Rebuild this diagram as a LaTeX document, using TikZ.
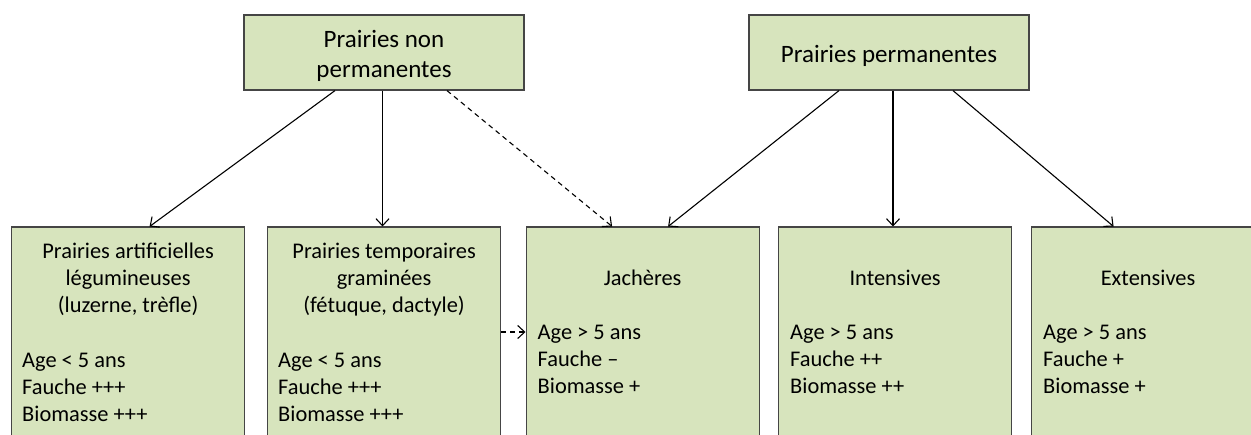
\documentclass[tikz,border=0pt]{standalone}
\usepackage{fontspec}
\setmainfont{Carlito}
\usetikzlibrary{arrows.meta}
\definecolor{boxfill}{HTML}{D7E4BD}
\definecolor{boxline}{HTML}{454545}
\tikzset{
  topbox/.style={draw=boxline, line width=1.2pt, fill=boxfill, minimum width=280pt, minimum height=75pt,
    inner sep=0pt},
  toptext/.style={inner sep=0pt, align=center, font=\fontsize{25}{29.5}\selectfont},
  lowbox/.style={draw=boxline, line width=1.2pt, fill=boxfill, minimum width=233pt, minimum height=260pt,
    inner sep=0pt, anchor=north west},
  titletext/.style={anchor=north, inner sep=0pt, align=center, font=\fontsize{22.4}{27}\selectfont},
  proptext/.style={anchor=north west, inner sep=0pt, align=left, font=\fontsize{22.4}{27}\selectfont},
  arr/.style={draw=black, line width=1.1pt, -{Straight Barb[length=7pt,width=13pt,line width=1.1pt]}},
  darr/.style={arr, dash pattern=on 5pt off 4pt}
}
\begin{document}
\begin{tikzpicture}[x=1pt,y=-1pt]
\useasboundingbox (0,0) rectangle (1251,435);
\clip (0,0) rectangle (1251,435);

% top boxes
\node[topbox] (A) at (384,52.5) {};
\node[toptext] (A-t) at ([yshift=-3.5pt]A.center) {Prairies non\\permanentes};
\node[topbox] (B) at (889,52.5) {};
\node[toptext] (B-t) at ([yshift=-3.5pt]B.center) {Prairies permanentes};

% bottom boxes
\node[lowbox] (la) at (11,226.5) {};
\node[lowbox] (lt) at (267,226.5) {};
\node[lowbox] (j)  at (525.5,226.5) {};
\node[lowbox] (in) at (778,226.5) {};
\node[lowbox] (ex) at (1031,226.5) {};

% texts
\node[titletext] (la-t) at ([yshift=-12.6pt]la.north) {\strut Prairies artificielles\\légumineuses\\(luzerne, trèfle)};
\node[proptext] (la-p) at ([xshift=11pt,yshift=-121.6pt]la.north west) {\strut Age < 5 ans\\Fauche +++\\Biomasse +++};

\node[titletext] (lt-t) at ([yshift=-12.6pt]lt.north) {\strut Prairies temporaires\\graminées\\(fétuque, dactyle)};
\node[proptext] (lt-p) at ([xshift=11pt,yshift=-121.6pt]lt.north west) {\strut Age < 5 ans\\Fauche +++\\Biomasse +++};

\node[titletext] (j-t) at ([yshift=-39.6pt]j.north) {\strut Jachères};
\node[proptext] (j-p) at ([xshift=12pt,yshift=-93.6pt]j.north west) {\strut Age > 5 ans\\Fauche –\\Biomasse +};

\node[titletext] (in-t) at ([yshift=-39.6pt]in.north) {\strut Intensives};
\node[proptext] (in-p) at ([xshift=12pt,yshift=-93.6pt]in.north west) {\strut Age > 5 ans\\Fauche ++\\Biomasse ++};

\node[titletext] (ex-t) at ([yshift=-39.6pt]ex.north) {\strut Extensives};
\node[proptext] (ex-p) at ([xshift=12pt,yshift=-93.6pt]ex.north west) {\strut Age > 5 ans\\Fauche +\\Biomasse +};

% connectors
\draw[arr]  ([xshift=-49pt]A.south) -- ([xshift=21.5pt]la.north);
\draw[arr]  ([xshift=-1.5pt]A.south) -- ([xshift=-1.5pt]A.south |- lt.north);
\draw[darr] ([xshift=63pt]A.south) -- ([xshift=-30.5pt]j.north);
\draw[darr] ([yshift=-105.5pt]lt.north east) -- ([yshift=-105.5pt]j.north west);

\draw[arr] ([xshift=-50pt]B.south) -- ([xshift=25.5pt]j.north);
\draw[arr] ([xshift=4pt]B.south) -- ([xshift=4pt]B.south |- in.north);
\draw[arr] ([xshift=64pt]B.south) -- ([xshift=-34.5pt]ex.north);
\end{tikzpicture}
\end{document}
